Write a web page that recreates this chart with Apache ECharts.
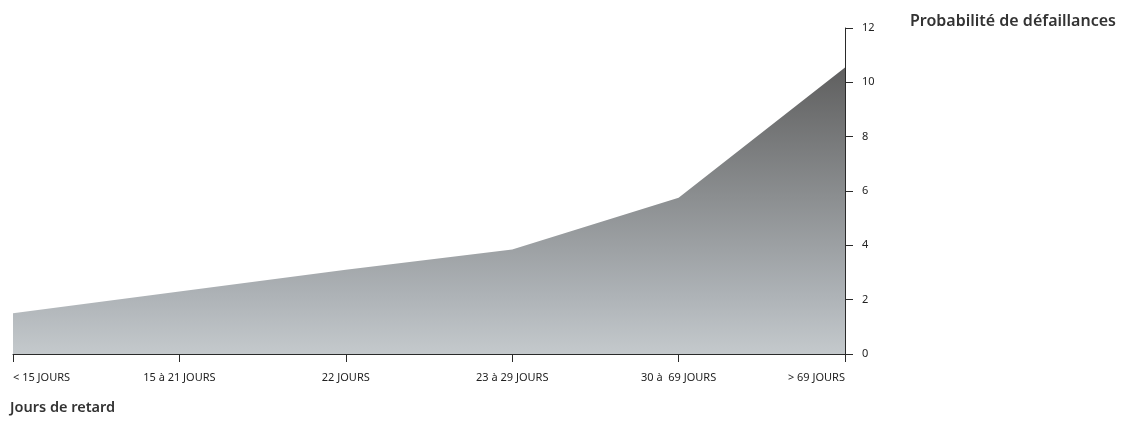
<!DOCTYPE html>
<html>
<head>
<meta charset="utf-8">
<script src="https://cdn.jsdelivr.net/npm/echarts@6/dist/echarts.min.js"></script>
<style>
  html, body { margin: 0; padding: 0; background: #ffffff; }
  #chart { width: 1122px; height: 423px; }
</style>
</head>
<body>
<div id="chart"></div>
<script>
// Délai de retard de paiement et probabilité de défaillance associée
const categories = ['< 15 JOURS', '15 à 21 JOURS', '22 JOURS', '23 à 29 JOURS', '30 à  69 JOURS', '> 69 JOURS'];
const probabilities = [1.5, 2.3, 3.1, 3.85, 5.75, 10.55];
const yTicks = [0, 2, 4, 6, 8, 10, 12];

const labelFont = '"Noto Sans", "Open Sans", sans-serif';
const titleFont = '"Noto Sans", "Open Sans", sans-serif';

const chart = echarts.init(document.getElementById('chart'));

// first and last category labels sit flush with the ends of the axis
const catData = categories.map((c, i) => {
  const item = { value: c };
  if (i === 0) item.textStyle = { align: 'left' };
  if (i === categories.length - 1) item.textStyle = { align: 'right' };
  return item;
});

chart.setOption({
  animation: false,
  backgroundColor: '#ffffff',
  grid: { left: 13, right: 277, top: 28, bottom: 69 },
  graphic: [
    {
      type: 'text', left: 910, top: 13,
      style: { text: 'Probabilité de défaillances', font: '600 16px ' + titleFont, fill: '#333333' }
    },
    {
      type: 'text', left: 10, top: 400,
      style: { text: 'Jours de retard', font: '600 14.5px ' + titleFont, fill: '#333333' }
    }
  ],
  xAxis: {
    type: 'category',
    data: catData,
    boundaryGap: false,
    axisLine: { show: true, lineStyle: { color: '#2a2a2a', width: 1 } },
    axisTick: { show: true, length: 8, inside: false, alignWithLabel: true, lineStyle: { color: '#2a2a2a' } },
    axisLabel: {
      margin: 18,
      fontFamily: labelFont,
      fontSize: 11,
      color: '#222222',
      interval: 0
    },
    splitLine: { show: false }
  },
  yAxis: {
    type: 'value',
    position: 'right',
    min: yTicks[0],
    max: yTicks[yTicks.length - 1],
    interval: 2,
    axisLine: { show: true, lineStyle: { color: '#2a2a2a', width: 1 } },
    axisTick: { show: true, length: 8, inside: false, lineStyle: { color: '#2a2a2a' } },
    axisLabel: {
      margin: 17,
      fontFamily: labelFont,
      fontSize: 11,
      color: '#222222',
      formatter: v => yTicks.includes(v) ? String(v) : ''
    },
    splitLine: { show: false }
  },
  series: [{
    type: 'line',
    data: probabilities,
    symbol: 'none',
    lineStyle: { width: 0 },
    areaStyle: {
      opacity: 1,
      color: new echarts.graphic.LinearGradient(0, 0, 0, 1, [
        { offset: 0, color: '#5f5f5f' },
        { offset: 0.45, color: '#8b8e90' },
        { offset: 0.8, color: '#aeb3b7' },
        { offset: 1, color: '#c4c9cc' }
      ])
    }
  }]
});
</script>
</body>
</html>
